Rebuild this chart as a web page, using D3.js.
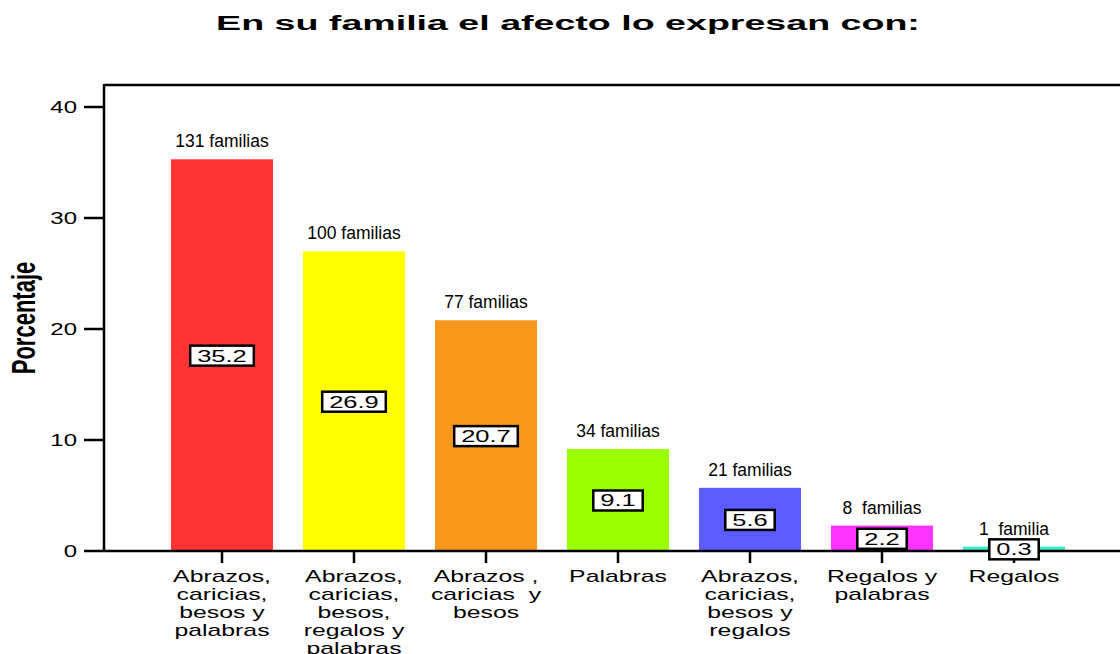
<!DOCTYPE html>
<html lang="es">
<head>
<meta charset="UTF-8">
<title>En su familia el afecto lo expresan con:</title>
<style>
    body { margin: 0; background: #fff; }
    svg text { font-family: "Liberation Sans", Arial, sans-serif; fill: #000; }
</style>
</head>
<body>
<svg width="1120" height="654"></svg>
<script src="https://cdn.jsdelivr.net/npm/d3@7"></script>
<script>
    // categories (one entry per line of the label)
    var categories = [
        ["Abrazos,", "caricias,", "besos y", "palabras"],
        ["Abrazos,", "caricias,", "besos,", "regalos y", "palabras"],
        ["Abrazos ,", "caricias  y", "besos"],
        ["Palabras"],
        ["Abrazos,", "caricias,", "besos y", "regalos"],
        ["Regalos y", "palabras"],
        ["Regalos"]
    ];
    var values = [35.2, 26.9, 20.7, 9.1, 5.6, 2.2, 0.3];
    var familias = ["131 familias", "100 familias", "77 familias", "34 familias", "21 familias", "8  familias", "1  familia"];
    var colors = ["#ff3333", "#ffff00", "#f7981d", "#99ff00", "#5b5bff", "#ff33ff", "#33f0c8"];
    var yTicks = [0, 10, 20, 30, 40];

    var svg = d3.select("svg"),
        stretch = 1.5,   // the original picture is stretched sideways
        plotLeft = 104, plotTop = 85, plotRight = 1120, plotBottom = 551;

    var x = d3.scaleBand()
        .domain(d3.range(values.length))
        .range([156, 1080])
        .paddingInner(0.227)
        .paddingOuter(0.1135);

    var y = d3.scaleLinear()
        .domain([0, 40])
        .range([plotBottom, 107]);

    // title
    svg.append("text")
        .attr("transform", "translate(568,30) scale(1.79,1)")
        .attr("text-anchor", "middle")
        .style("font-size", "21px")
        .style("font-weight", "bold")
        .text("En su familia el afecto lo expresan con:");

    // y axis label
    svg.append("text")
        .attr("transform", "translate(35,318) scale(" + stretch + ",1) rotate(-90)")
        .attr("text-anchor", "middle")
        .style("font-size", "22px")
        .style("font-weight", "bold")
        .text("Porcentaje");

    // bars
    svg.selectAll(".bar")
        .data(values)
        .enter()
        .append("rect")
        .attr("class", "bar")
        .attr("x", function(d, i) { return x(i); })
        .attr("y", function(d) { return y(d) - 1; })
        .attr("width", x.bandwidth())
        .attr("height", function(d) { return y(0) - y(d) + 1; })
        .attr("fill", function(d, i) { return colors[i]; });

    // frame lines
    svg.append("line").attr("x1", plotLeft).attr("x2", plotRight).attr("y1", plotTop).attr("y2", plotTop)
        .attr("stroke", "#000").attr("stroke-width", 2.5);
    svg.append("line").attr("x1", plotLeft).attr("x2", plotLeft).attr("y1", plotTop - 1).attr("y2", plotBottom + 1)
        .attr("stroke", "#000").attr("stroke-width", 2.5);
    svg.append("line").attr("x1", plotLeft).attr("x2", plotRight).attr("y1", plotBottom).attr("y2", plotBottom)
        .attr("stroke", "#000").attr("stroke-width", 2.5);

    // y ticks
    var yt = svg.selectAll(".ytick")
        .data(yTicks)
        .enter()
        .append("g")
        .attr("class", "ytick")
        .attr("transform", function(d) { return "translate(0," + y(d) + ")"; });
    yt.append("line")
        .attr("x1", 84).attr("x2", plotLeft)
        .attr("stroke", "#000").attr("stroke-width", 2.5);
    yt.append("text")
        .attr("transform", "translate(77,6) scale(" + stretch + ",1)")
        .attr("text-anchor", "end")
        .style("font-size", "16px")
        .text(function(d) { return d; });

    // x ticks and category labels
    var xt = svg.selectAll(".xtick")
        .data(categories)
        .enter()
        .append("g")
        .attr("class", "xtick")
        .attr("transform", function(d, i) { return "translate(" + (x(i) + x.bandwidth() / 2) + ",0)"; });
    xt.append("line")
        .attr("y1", plotBottom).attr("y2", plotBottom + 12)
        .attr("stroke", "#000").attr("stroke-width", 2.5);
    xt.append("text")
        .attr("transform", "translate(0,582) scale(1.55,1)")
        .attr("text-anchor", "middle")
        .style("font-size", "16px")
        .style("white-space", "pre")
        .selectAll("tspan")
        .data(function(d) { return d; })
        .enter()
        .append("tspan")
        .attr("x", 0)
        .attr("dy", function(d, i) { return i === 0 ? 0 : 18; })
        .text(function(d) { return d; });

    // "n familias" labels above bars
    svg.selectAll(".fam")
        .data(values)
        .enter()
        .append("text")
        .attr("class", "fam")
        .attr("x", function(d, i) { return x(i) + x.bandwidth() / 2; })
        .attr("y", function(d) { return y(d) - 13; })
        .attr("text-anchor", "middle")
        .style("font-size", "17.5px")
        .style("white-space", "pre")
        .text(function(d, i) { return familias[i]; });

    // boxed percentage values in the middle of each bar
    var vl = svg.selectAll(".val")
        .data(values)
        .enter()
        .append("g")
        .attr("class", "val")
        .attr("transform", function(d, i) {
            return "translate(" + (x(i) + x.bandwidth() / 2) + "," + y(d / 2) + ")";
        });
    vl.append("rect")
        .attr("stroke", "#000")
        .attr("stroke-width", 2.5)
        .attr("fill", "#fff");
    vl.append("text")
        .attr("transform", "translate(0,6) scale(" + stretch + ",1)")
        .attr("text-anchor", "middle")
        .style("font-size", "17px")
        .text(function(d) { return d.toFixed(1); });
    vl.each(function() {
        var g = d3.select(this),
            w = g.select("text").node().getBBox().width * stretch + 14;
        g.select("rect")
            .attr("x", -w / 2)
            .attr("y", -10)
            .attr("width", w)
            .attr("height", 20);
    });
</script>
</body>
</html>
